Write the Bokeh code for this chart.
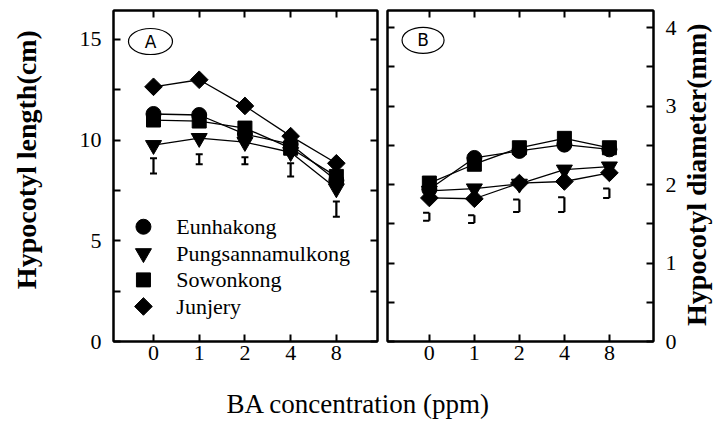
import math
from bokeh.plotting import figure
from bokeh.layouts import row, column
from bokeh.models import Range1d, LinearAxis, FixedTicker, Label
from bokeh.core.properties import value
from bokeh.embed import file_html
from bokeh.resources import INLINE

# ---------------- data ----------------
ba_levels = ["0", "1", "2", "4", "8"]
cultivars = ["Eunhakong", "Pungsannamulkong", "Sowonkong", "Junjery"]

length_eunhakong = [11.3, 11.25, 10.3, 9.8, 8.0]
length_pungsan = [9.75, 10.1, 9.9, 9.4, 7.6]
length_sowonkong = [11.0, 10.95, 10.6, 9.6, 8.2]
length_junjery = [12.65, 13.0, 11.7, 10.2, 8.85]
length_err_low = [8.35, 8.8, 8.8, 8.2, 6.2]
length_err_high = [9.1, 9.3, 9.15, 8.85, 6.95]

diam_eunhakong = [1.94, 2.34, 2.43, 2.51, 2.45]
diam_pungsan = [1.92, 1.95, 2.01, 2.19, 2.23]
diam_sowonkong = [2.02, 2.26, 2.47, 2.59, 2.47]
diam_junjery = [1.83, 1.82, 2.02, 2.04, 2.15]
diam_err_low = [1.54, 1.51, 1.65, 1.65, 1.83]
diam_err_high = [1.64, 1.61, 1.81, 1.84, 1.95]

length_ticks = [0, 2.5, 5, 7.5, 10, 12.5, 15]
length_tick_labels = ["0", "", "5", "", "10", "", "15"]
diam_ticks = [0, 0.5, 1, 1.5, 2, 2.5, 3, 3.5, 4]
diam_tick_labels = ["0", "", "1", "", "2", "", "3", "", "4"]

x_title = "BA concentration (ppm)"
y_title_left = "Hypocotyl length(cm)"
y_title_right = "Hypocotyl diameter(mm)"

# ---------------- styling ----------------
SERIF = "Liberation Serif"
marker_types = ["circle", "inverted_triangle", "square", "square"]
marker_angles = [0, 0, 0, math.pi / 4]
marker_sizes = [15, 16, 14, 12.5]

xi = list(range(len(ba_levels)))
x_labels = {i: lab for i, lab in enumerate(ba_levels)}


def style_axis(ax, ticks, labels=None):
    ax.ticker = FixedTicker(ticks=ticks)
    ax.major_tick_in = 7
    ax.major_tick_out = 0
    ax.minor_tick_in = 0
    ax.minor_tick_out = 0
    ax.major_tick_line_width = 2
    ax.major_tick_line_color = "black"
    ax.axis_line_width = 2
    ax.axis_line_color = "black"
    if labels is None:
        ax.major_label_overrides = {t: "" for t in ticks}
        ax.major_label_text_font_size = "0px"
        ax.major_label_standoff = 0
    else:
        ax.major_label_overrides = labels
        ax.major_label_text_font = SERIF
        ax.major_label_text_font_size = "22px"
        ax.major_label_text_color = "black"


def make_panel(width, x_range, y_range, y_side, yticks, ylabels, min_left, min_right):
    p = figure(width=width, height=375, output_backend="svg", toolbar_location=None,
               x_range=x_range, y_range=y_range, y_axis_location=y_side,
               min_border_left=min_left, min_border_right=min_right,
               min_border_top=10, min_border_bottom=34,
               background_fill_color="white", border_fill_color="white")
    p.grid.visible = False
    p.outline_line_color = "black"
    p.outline_line_width = 2
    style_axis(p.xaxis[0], xi, x_labels)
    p.xaxis[0].major_label_standoff = 4
    style_axis(p.yaxis[0], yticks, {t: l for t, l in zip(yticks, ylabels)})
    p.yaxis[0].major_label_standoff = 12
    top = LinearAxis()
    style_axis(top, xi)
    p.add_layout(top, "above")
    other = LinearAxis()
    style_axis(other, yticks)
    p.add_layout(other, "right" if y_side == "left" else "left")
    return p


def strip(width, height):
    s = figure(width=width, height=height, output_backend="svg", toolbar_location=None,
               x_range=Range1d(0, width), y_range=Range1d(0, height),
               min_border=0, min_border_left=0, min_border_right=0,
               min_border_top=0, min_border_bottom=0,
               background_fill_color="white", border_fill_color="white")
    s.axis.visible = False
    s.grid.visible = False
    s.outline_line_color = None
    return s


def draw_series(p, series):
    for vals in series:
        p.line(xi, vals, line_color="black", line_width=1.3)
    for vals, m, a, s in zip(series, marker_types, marker_angles, marker_sizes):
        p.scatter(xi, vals, marker=m, angle=a, size=s, fill_color="black",
                  line_color="black")


# ---------------- left title strip ----------------
pL = strip(44, 375)
pL.text([26], [206], text=[y_title_left], angle=math.pi / 2,
        text_font=value(SERIF), text_font_size="28px", text_font_style="bold",
        text_align="center", text_baseline="middle", text_color="black")

# ---------------- panel A ----------------
pA = make_panel(338, Range1d(-0.875, 4.9), Range1d(0, 16.44), "left",
                length_ticks, length_tick_labels, 69, 5)
series_A = [length_eunhakong, length_pungsan, length_sowonkong, length_junjery]
draw_series(pA, series_A)
pA.segment(xi, length_err_low, xi, length_err_high, line_color="black", line_width=2.2)
pA.scatter(xi, length_err_low, marker="dash", size=7, line_color="black", line_width=2)
pA.scatter(xi, length_err_high, marker="dash", size=7, line_color="black", line_width=2)

# legend (marker + name)
leg_x, leg_text_x, leg_y0, leg_dy = -0.22, 0.5, 5.7, 1.32
for k, (name, m, a, s) in enumerate(zip(cultivars, marker_types, marker_angles, marker_sizes)):
    yy = leg_y0 - k * leg_dy
    pA.scatter([leg_x], [yy], marker=m, angle=a, size=s, fill_color="black", line_color="black")
    pA.text([leg_text_x], [yy], text=[name], text_font=value(SERIF), text_font_size="22px",
            text_baseline="middle", text_align="left", text_color="black")

pA.ellipse([-0.066], [14.9], width=44, height=26, width_units="screen", height_units="screen",
           fill_color=None, line_color="black", line_width=1.2)
pA.text([-0.066], [14.9], text=["A"], text_font=value("DejaVu Sans"), text_font_size="17px",
        text_align="center", text_baseline="middle", text_color="black")

# ---------------- panel B ----------------
pB = make_panel(297, Range1d(-0.93, 4.98), Range1d(0, 4.22), "right",
                diam_ticks, diam_tick_labels, 5, 26)
series_B = [diam_eunhakong, diam_pungsan, diam_sowonkong, diam_junjery]
draw_series(pB, series_B)
cap = 0.14
pB.segment(xi, diam_err_low, xi, diam_err_high, line_color="black", line_width=2.2)
pB.segment([v - cap for v in xi], diam_err_low, xi, diam_err_low, line_color="black", line_width=2)
pB.segment([v - cap for v in xi], diam_err_high, xi, diam_err_high, line_color="black", line_width=2)

pB.ellipse([-0.14], [3.84], width=42, height=26, width_units="screen", height_units="screen",
           fill_color=None, line_color="black", line_width=1.2)
pB.text([-0.14], [3.84], text=["B"], text_font=value("DejaVu Sans"), text_font_size="17px",
        text_align="center", text_baseline="middle", text_color="black")
pB.yaxis[0].major_label_standoff = 14

# ---------------- right title strip ----------------
pR = strip(34, 375)
pR.text([17], [189], text=[y_title_right], angle=math.pi / 2,
        text_font=value(SERIF), text_font_size="28px", text_font_style="bold",
        text_align="center", text_baseline="middle", text_color="black")

# ---------------- shared x title ----------------
pC = strip(713, 48)
pC.add_layout(Label(x=358, y=20, x_units="screen", y_units="screen", text=x_title,
                    text_font=SERIF, text_font_size="27px", text_align="center",
                    text_baseline="alphabetic", text_color="black"))

layout = column(row(pL, pA, pB, pR, spacing=0), pC, spacing=0)
open("out.html", "w").write(file_html(layout, INLINE))
